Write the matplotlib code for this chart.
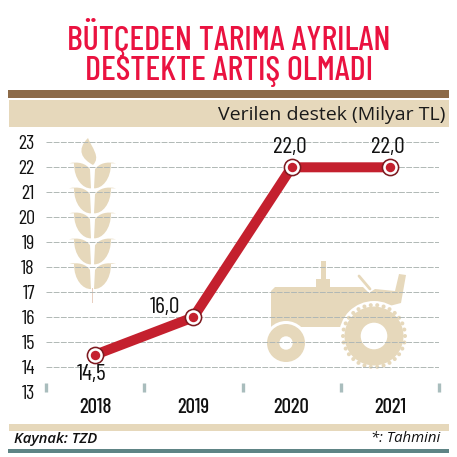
import numpy as np
import matplotlib
matplotlib.use("Agg")
import matplotlib.pyplot as plt
from matplotlib.patches import Rectangle, Polygon, Circle, PathPatch
from matplotlib.path import Path

years = ["2018", "2019", "2020", "2021"]
support = [14.5, 16.0, 22.0, 22.0]
value_labels = ["14,5", "16,0", "22,0", "22,0"]
y_ticks = list(range(13, 24))
title_lines = ["BÜTÇEDEN TARIMA AYRILAN", "DESTEKTE ARTIŞ OLMADI"]
subtitle = "Verilen destek (Milyar TL)"
source = "Kaynak: TZD"
note = "*: Tahmini"

NARROW = ["Barlow Condensed", "Roboto", "DejaVu Sans"]
RED = "#EA1240"; LINE = "#C4202E"; TAN = "#E6D8BB"; BROWN = "#8C6A48"; TEAL = "#5E8485"

W = H = 457
fig = plt.figure(figsize=(W/100, H/100), dpi=100, facecolor="white")

bg = fig.add_axes([0, 0, 1, 1]); bg.set_xlim(0, W); bg.set_ylim(H, 0); bg.axis("off")

def band(x0, y0, x1, y1, c):
    bg.add_patch(Rectangle((x0, y0), x1-x0, y1-y0, fc=c, ec="none"))

band(8, 90, 449, 98, BROWN)
band(9, 100, 449, 127, TAN)
band(9, 424, 449, 431, TAN)
band(8, 449, 449, 453, TEAL)

bg.text(229, 37.5, title_lines[0], color=RED, family=NARROW, weight="medium", fontsize=24.6, ha="center", va="center")
bg.text(229, 71.5, title_lines[1], color=RED, family=NARROW, weight="medium", fontsize=24.6, ha="center", va="center")
bg.text(445, 115, subtitle, color="#1a1a1a", family="Open Sans", fontsize=14, ha="right", va="center")
bg.text(14, 438.5, source, color="#111111", family="Open Sans", style="italic", weight="semibold", fontsize=10.7, ha="left", va="center")
bg.text(440, 438.5, note, color="#111111", family="Open Sans", style="italic", fontsize=10.7, ha="right", va="center")

# wheat illustration
def leaf(xb, yb, s):
    verts = [(xb, yb), (xb+s*8, yb+0.5), (xb+s*17, yb-9), (xb+s*17, yb-25),
             (xb+s*22, yb-25), (xb+s*13, yb-27), (xb+s*5, yb-25), (xb+s*1, yb-19), (xb, yb)]
    codes = [Path.MOVETO, Path.CURVE4, Path.CURVE4, Path.CURVE4, Path.LINETO,
             Path.CURVE4, Path.CURVE4, Path.CURVE4, Path.CLOSEPOLY]
    bg.add_patch(PathPatch(Path(verts, codes), fc=TAN, ec="none", zorder=2))

for yb in [188.3, 213.3, 238.3, 264.3, 289]:
    leaf(91, yb, -1)
    leaf(94, yb, 1)
bg.add_patch(PathPatch(Path([(93, 165), (82, 159), (76, 150), (88, 138), (92, 148), (101, 157), (93, 165), (93, 165)],
    [Path.MOVETO, Path.CURVE4, Path.CURVE4, Path.CURVE4, Path.CURVE4, Path.CURVE4, Path.CURVE4, Path.CLOSEPOLY]),
    fc=TAN, ec="none", zorder=2))
bg.add_patch(Rectangle((91.8, 288), 1.6, 15, fc="#E8CFC0", ec="none", zorder=2))

# tractor illustration
tractor = [(271, 291), (275, 287), (316, 287), (316, 279), (321, 279), (321, 261), (326, 261), (326, 279),
           (330, 279), (330, 287), (363, 287), (369, 293), (375, 289), (395, 291), (399, 274), (406, 275),
           (401, 303), (374, 310), (345, 327), (288, 327), (271, 327)]
bg.add_patch(Polygon(tractor, closed=True, fc=TAN, ec="none", zorder=2))
bg.plot([359, 370], [276, 289], color=TAN, lw=2.0, zorder=2, solid_capstyle="round")
bg.add_patch(Circle((286, 343), 22, fc="white", ec="none", zorder=2.1))
bg.add_patch(Circle((286, 343), 19, fc=TAN, ec="none", zorder=2.2))
bg.add_patch(Circle((286, 343), 6.7, fc="white", ec="none", zorder=2.3))
bg.add_patch(Circle((374, 336), 35, fc="white", ec="none", zorder=2.1))
bg.add_patch(Circle((374, 336), 29.5, fc=TAN, ec="none", zorder=2.2))
for a in np.deg2rad(np.arange(0, 360, 12)):
    bg.add_patch(Circle((374+31*np.cos(a), 336+31*np.sin(a)), 2, fc=TAN, ec="none", zorder=2.2))
bg.add_patch(Circle((374, 336), 13.3, fc="white", ec="none", zorder=2.3))

# data axes
x0, x1, y_top, y_bot = 46, 439, 142.3, 392.3
ax = fig.add_axes([x0/W, 1-y_bot/H, (x1-x0)/W, (y_bot-y_top)/H])
ax.patch.set_alpha(0)
ax.set_xlim(-0.5, 3.5); ax.set_ylim(13, 23)
for s in ax.spines.values():
    s.set_visible(False)
pos = np.arange(len(years))
ax.set_xticks(pos, years, family=NARROW, weight="medium", fontsize=15, color="#111111")
ax.tick_params(axis="x", length=0, pad=4)
ax.set_yticks(y_ticks, [str(v) for v in y_ticks], family=NARROW, fontsize=14.5, color="#111111")
ax.tick_params(axis="y", length=0, pad=8)
ax.grid(axis="y", color="#B0B8B5", lw=0.7, ls=(0, (6, 1.4)), zorder=1)
ax.grid(axis="x", visible=False)
ax.set_axisbelow(True)
for e in np.arange(-0.5, 3.6, 1):
    ax.plot([e, e], [13, 13.36], color="#A9BDBD", lw=2.4, solid_capstyle="butt", zorder=2, clip_on=False)

ax.plot(pos, support, color=LINE, lw=7.2, zorder=4, solid_joinstyle="round", solid_capstyle="round")
ax.plot(pos, support, ls="none", marker="o", ms=12.8, mfc="#7E1A20", mec="none", zorder=5)
ax.plot(pos, support, ls="none", marker="o", ms=10.5, mfc="white", mec="none", zorder=6)
ax.plot(pos, support, ls="none", marker="o", ms=6.8, mfc=LINE, mec="none", zorder=7)

offsets = [(-4, -20), (-28, 10), (-2, 20), (-2, 20)]
for x, y, t, o in zip(pos, support, value_labels, offsets):
    ax.annotate(t, (x, y), xytext=(o[0]/1.389, o[1]/1.389), textcoords="offset points",
                ha="center", va="center", family=NARROW, fontsize=17, color="#111111", zorder=8)

fig.savefig("out.png", dpi=100)
